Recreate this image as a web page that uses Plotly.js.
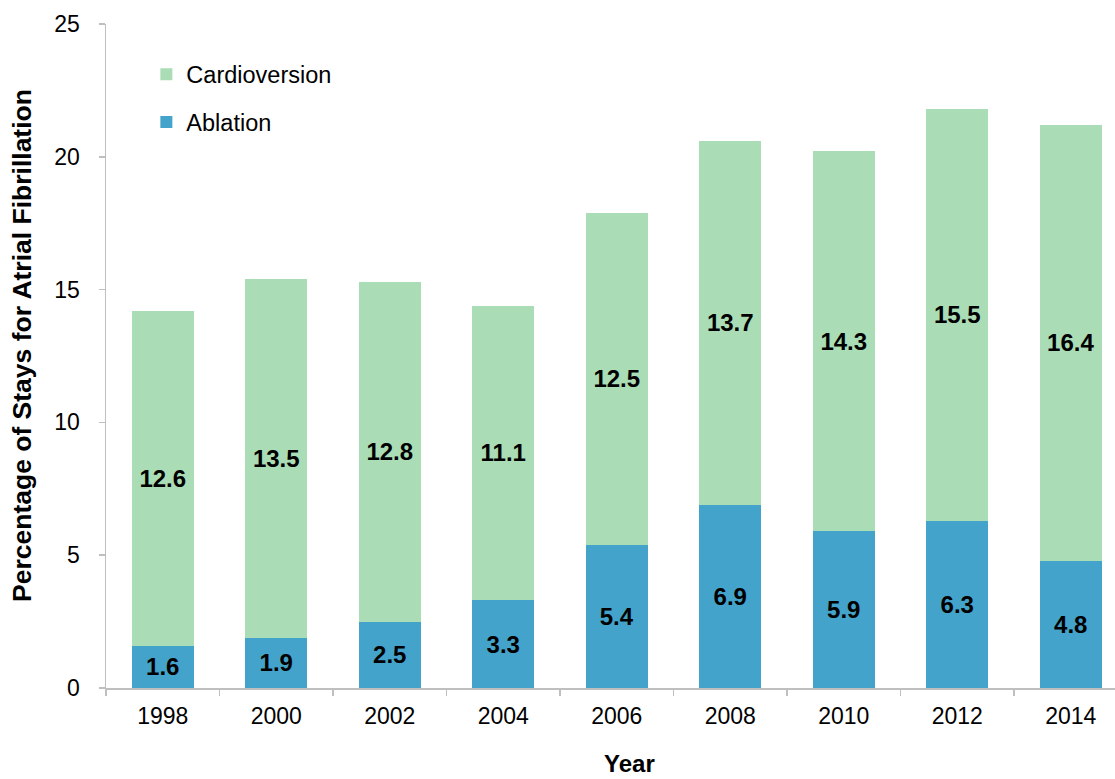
<!DOCTYPE html>
<html>
<head>
<meta charset="utf-8">
<script src="https://cdn.plot.ly/plotly-3.0.1.min.js"></script>
<style>
  html, body { margin: 0; padding: 0; background: #ffffff; }
  #chart { width: 1115px; height: 779px; }
</style>
</head>
<body>
<div id="chart"></div>
<script>
// ---- data ----
const years = ["1998", "2000", "2002", "2004", "2006", "2008", "2010", "2012", "2014"];
const ablation = [1.6, 1.9, 2.5, 3.3, 5.4, 6.9, 5.9, 6.3, 4.8];
const cardioversion = [12.6, 13.5, 12.8, 11.1, 12.5, 13.7, 14.3, 15.5, 16.4];
const seriesNames = ["Ablation", "Cardioversion"];
const yTitle = "Percentage of Stays for Atrial Fibrillation";
const xTitle = "Year";

const FONT = "Liberation Sans, Arial, Helvetica, sans-serif";
const labelFont = { family: FONT, size: 24, color: "#000000", weight: "bold" };

const traces = [
  {
    type: "bar",
    name: seriesNames[0],
    x: years,
    y: ablation,
    marker: { color: "#43A3CB" },
    texttemplate: "%{y:.1f}",
    textposition: "inside",
    insidetextanchor: "middle",
    constraintext: "none",
    textfont: labelFont,
    legendgroup: "a",
    legendrank: 2,
    hoverinfo: "skip"
  },
  {
    type: "bar",
    name: seriesNames[1],
    x: years,
    y: cardioversion,
    marker: { color: "#AADDB6" },
    texttemplate: "%{y:.1f}",
    textposition: "inside",
    insidetextanchor: "middle",
    constraintext: "none",
    textfont: labelFont,
    legendgroup: "c",
    legendrank: 1,
    hoverinfo: "skip"
  }
];

const layout = {
  width: 1115,
  height: 779,
  margin: { l: 106, r: 0, t: 24, b: 91, autoexpand: false },
  paper_bgcolor: "#ffffff",
  plot_bgcolor: "#ffffff",
  barmode: "stack",
  bargap: 0.454,
  font: { family: FONT, size: 23, color: "#000000" },
  showlegend: true,
  legend: {
    x: 0.040, y: 0.957, xanchor: "left", yanchor: "top",
    bgcolor: "rgba(0,0,0,0)",
    font: { family: FONT, size: 23.5, color: "#000000" },
    traceorder: "grouped",
    tracegroupgap: 14,
    itemclick: false
  },
  xaxis: {
    type: "category",
    range: [-0.5, 8.39],
    showline: true,
    linecolor: "#BFBFBF",
    linewidth: 1.5,
    ticks: "outside",
    tickson: "boundaries",
    ticklen: 6,
    tickcolor: "#BFBFBF",
    tickwidth: 1.5,
    ticklabelstandoff: 7,
    tickfont: { family: FONT, size: 23, color: "#000000" },
    showgrid: false,
    zeroline: false,
    fixedrange: true
  },
  yaxis: {
    range: [0, 25],
    tick0: 0,
    dtick: 5,
    showline: true,
    linecolor: "#BFBFBF",
    linewidth: 1.5,
    ticks: "outside",
    ticklen: 6,
    tickcolor: "#BFBFBF",
    tickwidth: 1.5,
    ticklabelstandoff: 14,
    tickfont: { family: FONT, size: 23, color: "#000000" },
    showgrid: false,
    zeroline: false,
    fixedrange: true
  },
  annotations: [
    {
      text: yTitle,
      xref: "paper", yref: "paper",
      x: (22 - 106) / 1009, y: (688 - 346) / 664,
      xanchor: "center", yanchor: "middle",
      textangle: -90,
      showarrow: false,
      font: { family: FONT, size: 26.5, color: "#000000", weight: "bold" }
    },
    {
      text: xTitle,
      xref: "paper", yref: "paper",
      x: (629 - 106) / 1009, y: (688 - 779) / 664,
      xanchor: "center", yanchor: "bottom",
      showarrow: false,
      font: { family: FONT, size: 24, color: "#000000", weight: "bold" }
    }
  ]
};

Plotly.newPlot("chart", traces, layout, { displayModeBar: false, staticPlot: true });
</script>
</body>
</html>
